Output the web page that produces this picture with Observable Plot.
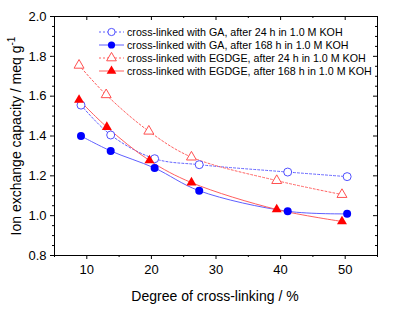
<!DOCTYPE html>
<html><head><meta charset="utf-8">
<script src="https://cdn.jsdelivr.net/npm/d3@7"></script>
<script src="https://cdn.jsdelivr.net/npm/@observablehq/plot@0.6"></script>
<style>body{margin:0;background:#fff}#c{position:relative;width:396px;height:310px}</style>
</head><body><div id="c"></div>
<script>
const seriesNames = [
  "cross-linked with GA, after 24 h in 1.0 M KOH",
  "cross-linked with GA, after 168 h in 1.0 M KOH",
  "cross-linked with EGDGE, after 24 h in 1.0 M KOH",
  "cross-linked with EGDGE, after 168 h in 1.0 M KOH"
];
const xGA = [9.1, 13.7, 20.5, 27.4, 41.1, 50.3];
const yGA24 = [1.555, 1.405, 1.286, 1.256, 1.219, 1.196];
const yGA168 = [1.40, 1.325, 1.239, 1.125, 1.022, 1.009];
const xEG24 = [8.8, 13.0, 19.6, 26.2, 39.4, 49.5];
const xEG168 = [8.8, 13.1, 19.7, 26.2, 39.4, 49.5];
const yEG24 = [1.755, 1.607, 1.424, 1.294, 1.176, 1.106];
const yEG168 = [1.581, 1.445, 1.277, 1.166, 1.031, 0.971];
const xTicks = [10, 20, 30, 40, 50];
const xMinor = [5, 15, 25, 35, 45, 55];
const yTicks = [0.8, 1.0, 1.2, 1.4, 1.6, 1.8, 2.0];
const yMinor = [0.85, 0.9, 0.95, 1.05, 1.1, 1.15, 1.25, 1.3, 1.35, 1.45, 1.5, 1.55, 1.65, 1.7, 1.75, 1.85, 1.9, 1.95];
const xTitle = "Degree of cross-linking / %";
const yTitle = "Ion exchange capacity / meq g";

const blue = "#0000ff", red = "#ff0000";
const blueLine = "#6060ff", redLine = "#ff6060";
const series = [
  {xs: xGA, ys: yGA24, color: blue, line: blueLine, dash: "2,2", symbol: "circle", fill: "white"},
  {xs: xGA, ys: yGA168, color: blue, line: blueLine, dash: null, symbol: "circle", fill: blue},
  {xs: xEG24, ys: yEG24, color: red, line: redLine, dash: "2,2", symbol: "triangle", fill: "white"},
  {xs: xEG168, ys: yEG168, color: red, line: redLine, dash: null, symbol: "triangle", fill: red}
];
const openStroke = s => s.color === blue ? "#5050ff" : "#ff5050";
const lineMarks = [], dotMarks = [];
series.forEach(s => {
  const data = s.xs.map((x, i) => ({x, y: s.ys[i]}));
  lineMarks.push(Plot.line(data, {x: "x", y: "y", curve: "catmull-rom", stroke: s.line, strokeWidth: 1, strokeDasharray: s.dash}));
  dotMarks.push(Plot.dot(data, {x: "x", y: "y", symbol: s.symbol, r: s.symbol === "circle" ? 4 : 3.7,
    fill: s.fill, stroke: s.fill === "white" ? openStroke(s) : s.color, strokeWidth: s.fill === "white" ? 1 : 0}));
});

const W = 396, H = 310, mL = 54, mR = 19, mT = 16, mB = 55;
const pw = W - mL - mR, ph = H - mT - mB;
const tk = {stroke: "#000", strokeWidth: 1};
const blank = () => "";
const chart = Plot.plot({
  width: W, height: H,
  marginLeft: mL, marginRight: mR, marginTop: mT, marginBottom: mB,
  style: {fontFamily: "'Liberation Sans', Arial, sans-serif", fontSize: "13px", color: "#000", background: "#fff"},
  x: {domain: [5, 55]},
  y: {domain: [0.8, 2.0]},
  marks: [
    Plot.axisX({ticks: xTicks, tickSize: 0, tickPadding: 9, tickFormat: d => String(d), label: null, fontSize: 13}),
    Plot.axisY({ticks: yTicks, tickSize: 0, tickPadding: 8, tickFormat: d => d.toFixed(1), label: null, fontSize: 13}),
    // outward ticks (bottom, left)
    Plot.ruleX(xTicks, {...tk, x: d => d, insetTop: ph - 4, dy: 4}),
    Plot.ruleX(xMinor, {...tk, x: d => d, insetTop: ph - 2, dy: 2}),
    Plot.ruleY(yTicks, {...tk, y: d => d, insetRight: pw - 4, dx: -4}),
    Plot.ruleY(yMinor, {...tk, y: d => d, insetRight: pw - 2, dx: -2}),
    // inward ticks (top, right)
    Plot.ruleX(xTicks, {...tk, x: d => d, insetBottom: ph - 4}),
    Plot.ruleX(xMinor, {...tk, x: d => d, insetBottom: ph - 2}),
    Plot.ruleY(yTicks, {...tk, y: d => d, insetLeft: pw - 4}),
    Plot.ruleY(yMinor, {...tk, y: d => d, insetLeft: pw - 2}),
    ...lineMarks,
    ...dotMarks,
    Plot.frame({stroke: "#000", strokeWidth: 1})
  ]
});
document.getElementById("c").appendChild(chart);

// titles and legend
const svg = d3.select(chart);
svg.append("text").attr("x", 215).attr("y", 301).attr("text-anchor", "middle")
  .attr("font-size", 14).attr("fill", "#000").text(xTitle);
const yt = svg.append("text").attr("transform", "translate(21,136) rotate(-90)").attr("text-anchor", "middle")
  .attr("font-size", 14).attr("fill", "#000");
yt.append("tspan").text(yTitle);
yt.append("tspan").attr("font-size", 10).attr("dy", -6).text("-1");

const leg = svg.append("g").attr("font-size", 10.7).attr("fill", "#000").attr("text-anchor", "start");
series.forEach((s, i) => {
  const y = 32 + i * 13;
  leg.append("line").attr("x1", 99).attr("x2", 124).attr("y1", y).attr("y2", y)
    .attr("stroke", s.line).attr("stroke-dasharray", s.dash);
  const sym = d3.symbol(s.symbol === "circle" ? d3.symbolCircle : d3.symbolTriangle, Math.PI * 13)();
  leg.append("path").attr("d", sym).attr("transform", `translate(111.5,${y})`)
    .attr("fill", s.fill).attr("stroke", s.fill === "white" ? openStroke(s) : "none");
  leg.append("text").attr("x", 127).attr("y", y).attr("dy", "0.35em").text(seriesNames[i]);
});
</script></body></html>
